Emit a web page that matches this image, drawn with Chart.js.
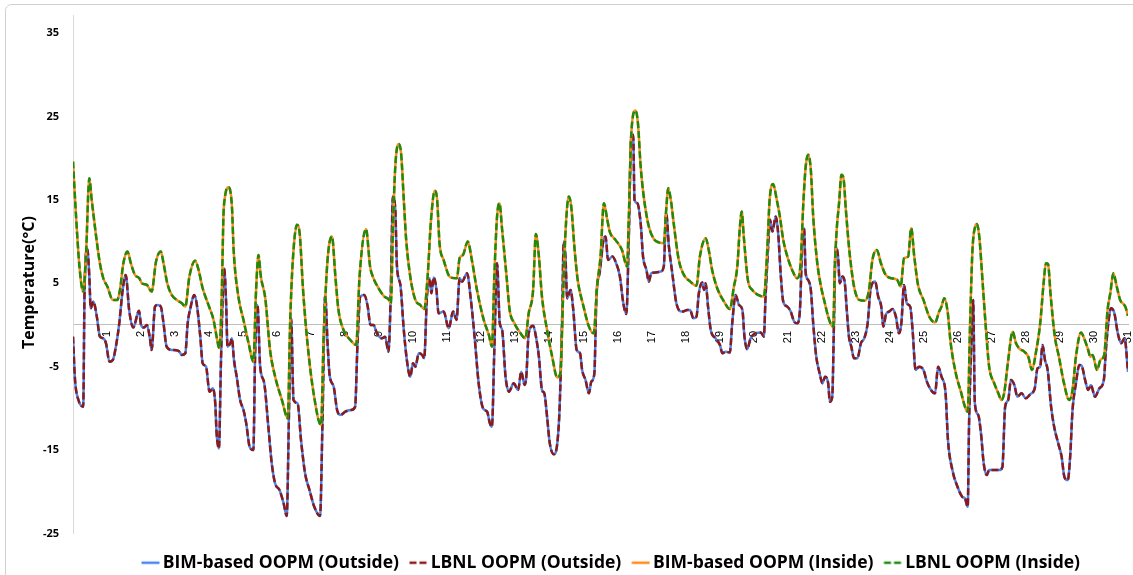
<!DOCTYPE html>
<html><head><meta charset="utf-8">
<script src="https://cdn.jsdelivr.net/npm/chart.js@4.4.1/dist/chart.umd.min.js"></script>
<style>html,body{margin:0;padding:0;background:#fff;}#wrap{width:1133px;height:575px;position:relative;}</style>
</head><body><div id="wrap"><canvas id="c" width="1133" height="575"></canvas></div>
<script>
// Day of month (x) for the outside-temperature readings
const outDay = [
 0,0.06,0.16,0.30,0.34,0.42,0.48,0.52,0.60,0.70,0.79,0.89,0.97,
 1.07,1.17,1.26,1.36,1.46,1.55,1.65,1.77,1.94,
 2.00,2.09,2.17,2.26,2.31,2.41,2.48,2.58,2.66,2.75,2.90,
 3.10,3.20,3.30,3.37,3.46,3.56,3.64,3.74,3.81,3.91,
 4.01,4.11,4.18,4.22,4.29,4.34,4.37,4.44,4.50,4.54,4.62,4.67,4.73,4.81,4.91,
 5.01,5.09,5.19,5.30,5.35,5.42,5.50,5.62,5.74,5.84,5.94,
 6.07,6.19,6.28,6.35,6.41,6.48,6.60,6.70,6.82,6.95,
 7.09,7.26,7.33,7.41,7.48,7.54,7.66,7.76,7.86,
 8.00,8.17,8.29,8.36,8.44,8.56,8.66,8.74,8.83,8.93,
 9.08,9.17,9.27,9.34,9.40,9.47,9.52,9.62,9.72,9.81,9.91,9.99,
 10.06,10.16,10.26,10.32,10.40,10.48,10.53,10.60,10.68,10.74,10.89,
 11.04,11.17,11.27,11.36,11.43,11.58,11.68,11.80,11.92,
 12.05,12.17,12.25,12.31,12.38,12.46,12.54,12.61,12.71,12.81,12.95,
 13.08,13.17,13.27,13.32,13.39,13.52,13.62,13.69,13.78,13.85,13.93,
 14.01,14.13,14.23,14.30,14.37,14.42,14.47,14.52,14.62,14.70,14.80,14.90,14.96,
 15.06,15.16,15.23,15.32,15.38,15.48,15.58,15.65,15.72,15.85,15.94,
 16.07,16.17,16.26,16.33,16.40,16.46,16.50,16.58,16.68,16.75,16.85,16.92,16.99,
 17.12,17.27,17.36,17.43,17.51,17.61,17.73,17.90,
 18.05,18.13,18.23,18.32,18.39,18.49,18.54,18.59,18.66,18.74,18.88,
 19.01,19.08,19.18,19.30,19.37,19.47,19.57,19.67,19.73,19.81,19.91,
 20.06,20.21,20.30,20.35,20.42,20.48,20.55,20.65,20.72,20.80,20.87,20.99,
 21.09,21.19,21.28,21.36,21.43,21.48,21.53,21.60,21.68,21.75,21.84,21.94,
 22.02,22.10,22.19,22.24,22.31,22.36,22.41,22.48,22.53,22.61,22.68,22.73,22.80,22.87,22.95,
 23.05,23.15,23.25,23.35,23.44,23.57,23.66,23.75,23.81,23.89,23.98,
 24.08,24.18,24.27,24.34,24.42,24.50,24.60,24.67,24.76,24.86,24.99,
 25.09,25.21,25.33,25.42,25.52,25.64,25.71,25.84,25.99,
 26.13,26.21,26.29,26.33,26.41,26.45,26.50,26.60,26.68,26.76,26.85,26.92,
 27.07,27.22,27.31,27.39,27.48,27.56,27.66,27.75,27.87,
 28.00,28.13,28.26,28.34,28.42,28.49,28.56,28.64,28.74,28.83,28.95,
 29.05,29.13,29.23,29.30,29.37,29.47,29.57,29.64,29.74,29.83,29.91,
 30.03,30.16,30.29,30.35,30.42,30.50,30.60,30.70,30.80,30.90,31.00
];
// LBNL OOPM outside temperature (°C)
const outTempLBNL = [
 -1.4,-6.6,-9.0,-9.8,4.2,9.1,5.8,2.0,2.8,1.0,-1.4,-1.6,-2.2,
 -4.4,-4.2,-2.6,0.2,4.2,6.0,1.8,-0.3,1.7,
 0.0,-0.3,0.0,-1.6,-3.0,2.2,2.4,2.2,0.2,-2.6,-3.0,
 -3.1,-3.6,-3.4,0.2,2.2,3.6,2.4,-1.4,-4.6,-5.0,
 -8.0,-7.6,-9.4,-13.0,-14.8,-5.8,-0.6,6.8,2.6,-2.6,-2.2,-1.6,-4.2,-6.2,-9.0,
 -10.2,-11.8,-14.6,-15.0,-3.8,2.4,-5.0,-7.0,-12.2,-16.6,-19.0,
 -19.8,-21.4,-22.9,-9.8,0.8,-9.0,-9.4,-13.8,-17.8,-19.8,
 -21.8,-22.9,-11.8,3.6,-2.2,-6.0,-7.4,-10.2,-10.8,
 -10.4,-10.2,-9.8,-2.2,3.4,3.6,2.2,0.0,0.0,-1.0,
 -1.6,-1.4,-3.2,4.2,15.4,13.8,7.0,4.8,-0.6,-4.2,-6.2,-4.6,
 -5.0,-3.4,-3.6,-4.0,3.4,5.6,3.8,5.7,4.2,1.4,1.6,
 -0.4,1.6,0.6,5.6,5.2,6.2,3.4,-1.4,-7.0,
 -10.0,-10.4,-11.8,-12.2,-3.0,7.4,0.2,-0.6,-6.2,-8.0,-7.0,
 -7.8,-5.6,-7.2,-6.2,-1.0,-0.1,-1.8,-3.8,-7.8,-8.2,-11.0,
 -14.2,-15.5,-14.2,-9.8,0.2,10.0,8.2,3.2,4.2,1.8,-3.0,-3.4,-5.4,
 -6.6,-8.2,-6.8,-5.8,3.4,6.4,10.0,10.6,7.8,8.2,7.6,
 5.8,2.6,1.3,10.2,22.2,22.8,15.0,14.6,12.2,8.2,6.6,5.2,6.2,
 6.3,6.4,7.0,13.4,9.4,6.2,2.6,1.6,
 1.8,1.8,0.8,1.0,3.8,5.1,4.2,5.0,2.2,-0.6,-1.6,
 -2.4,-3.4,-3.2,-3.3,0.2,3.6,2.4,1.8,-1.4,-2.9,-1.6,
 -1.0,-0.9,-1.4,3.4,9.0,12.6,11.2,13.0,11.0,5.8,2.8,2.2,
 1.6,0.4,0.2,1.8,10.2,11.6,6.2,5.4,4.2,0.2,-3.8,-5.8,
 -7.0,-6.2,-7.0,-9.2,-8.6,0.2,9.4,8.2,5.0,5.8,5.0,2.2,-1.4,-2.6,-4.0,
 -4.0,-2.2,-1.6,0.2,4.4,5.2,3.4,2.2,-0.2,1.3,1.6,
 1.9,1.0,-1.0,0.2,4.8,2.6,2.2,-0.6,-5.4,-5.0,-5.4,
 -6.8,-7.8,-8.2,-5.0,-6.2,-8.2,-13.8,-17.4,-19.4,
 -20.6,-20.8,-21.8,-11.8,-0.6,3.0,-9.4,-10.8,-13.0,-16.6,-18.0,-17.4,
 -17.4,-17.4,-17.0,-9.8,-9.0,-6.6,-7.2,-8.6,-8.2,
 -8.8,-8.3,-7.6,-5.2,-5.0,-2.4,-4.2,-5.4,-9.8,-12.2,-14.2,
 -15.8,-18.2,-18.6,-15.8,-10.2,-7.0,-4.8,-4.9,-6.6,-7.8,-7.2,
 -8.6,-7.6,-6.6,-3.0,0.2,2.0,1.4,-1.0,-2.2,-1.6,-5.6
];
// BIM-based OOPM outside temperature: indistinguishable from LBNL in the picture
const outTempBIM = outTempLBNL;

// Day of month (x) for the inside-temperature readings
const inDay = [
 0,0.09,0.19,0.30,0.38,0.48,0.55,0.68,0.79,0.89,
 1.01,1.17,1.30,1.38,1.48,1.60,1.70,1.82,1.95,
 2.02,2.17,2.31,2.44,2.58,2.66,2.77,2.90,
 3.05,3.20,3.30,3.42,3.59,3.69,3.81,3.98,
 4.13,4.22,4.30,4.37,4.42,4.46,4.57,4.67,4.72,4.86,
 5.01,5.16,5.30,5.38,5.45,5.52,5.65,5.79,5.94,
 6.14,6.31,6.38,6.46,6.58,6.66,6.76,6.89,
 7.07,7.29,7.36,7.48,7.61,7.71,7.80,7.95,
 8.15,8.32,8.42,8.61,8.73,8.81,8.98,
 9.15,9.27,9.34,9.40,9.47,9.57,9.64,9.72,9.79,9.91,
 10.06,10.20,10.32,10.42,10.52,10.63,10.70,10.77,10.89,
 11.09,11.28,11.36,11.46,11.60,11.72,11.87,
 12.07,12.22,12.31,12.38,12.46,12.53,12.61,12.74,12.83,12.97,
 13.15,13.29,13.39,13.52,13.60,13.69,13.78,13.93,
 14.08,14.23,14.32,14.40,14.47,14.57,14.64,14.74,14.83,14.99,
 15.16,15.30,15.40,15.50,15.60,15.70,15.77,15.94,
 16.13,16.28,16.33,16.40,16.53,16.60,16.68,16.77,16.92,
 17.07,17.21,17.36,17.43,17.49,17.58,17.65,17.80,17.95,
 18.14,18.32,18.42,18.59,18.68,18.78,18.93,
 19.13,19.30,19.42,19.52,19.59,19.65,19.71,19.83,19.96,
 20.13,20.30,20.40,20.47,20.57,20.68,20.77,20.87,20.99,
 21.13,21.28,21.38,21.46,21.53,21.60,21.68,21.75,21.87,21.99,
 22.07,22.19,22.28,22.34,22.38,22.44,22.51,22.58,22.64,22.71,22.81,22.95,
 23.10,23.27,23.39,23.49,23.62,23.74,23.88,
 24.05,24.22,24.32,24.42,24.54,24.63,24.72,24.83,24.99,
 25.16,25.33,25.45,25.52,25.60,25.70,25.79,25.94,
 26.09,26.21,26.29,26.36,26.43,26.51,26.56,26.63,26.73,26.82,26.92,
 27.07,27.19,27.28,27.36,27.48,27.61,27.71,27.80,27.95,
 28.07,28.18,28.29,28.42,28.52,28.59,28.65,28.73,28.85,28.97,
 29.12,29.27,29.37,29.47,29.62,29.71,29.83,29.89,29.96,
 30.09,30.19,30.30,30.40,30.48,30.57,30.67,30.77,30.92,31.00
];
// LBNL OOPM inside temperature (°C)
const inTempLBNL = [
 19.6,13.0,7.0,4.0,8.2,17.6,15.0,10.6,7.4,5.6,
 4.6,3.0,3.0,4.2,7.4,8.8,7.4,6.0,5.6,
 5.0,4.8,4.0,7.6,8.8,7.4,5.0,3.6,
 3.0,2.6,2.2,5.8,7.7,6.6,4.4,2.4,
 0.6,-1.4,-2.8,3.4,13.0,15.2,16.5,14.2,9.0,3.4,
 0.6,-2.2,-4.4,4.2,8.4,5.8,3.2,-3.0,-6.2,
 -9.0,-11.2,0.2,7.8,12.0,11.0,4.2,-2.2,
 -8.2,-12.0,-2.2,7.8,10.6,5.8,1.8,-0.6,
 -1.8,-2.4,5.8,11.5,7.0,5.8,4.4,
 3.4,3.1,2.6,11.4,19.0,21.7,20.6,15.0,10.2,5.8,
 3.0,2.4,1.9,5.8,12.6,16.1,15.0,9.8,7.8,
 5.7,5.6,8.0,8.4,10.0,7.8,4.2,
 0.6,-1.2,-2.6,5.8,13.0,14.6,11.4,5.8,1.8,0.2,
 -1.0,-1.6,1.4,4.2,10.9,8.2,3.4,-0.6,
 -3.8,-6.3,-5.8,3.4,11.0,15.4,14.2,9.0,5.4,2.4,
 -0.2,-1.0,4.6,8.2,14.6,12.6,11.2,10.2,
 9.0,7.0,12.6,22.6,25.7,24.2,19.0,15.4,11.8,
 10.3,9.9,9.8,13.8,16.4,14.6,12.2,7.8,6.0,
 5.2,4.7,8.2,10.4,9.0,6.6,4.4,
 2.8,1.9,4.6,7.0,11.4,13.6,10.6,5.4,4.2,
 3.6,3.4,9.0,15.0,16.9,15.0,13.0,10.2,8.2,
 6.6,5.6,7.4,14.6,19.0,20.4,18.6,13.0,7.4,4.4,
 3.0,1.0,0.0,-0.2,6.2,11.4,14.6,18.0,17.6,13.8,9.0,4.6,
 3.0,2.9,4.2,7.8,9.0,7.4,6.0,
 5.6,5.4,4.6,8.0,8.2,11.6,8.2,4.8,3.0,
 1.0,0.3,1.6,2.2,3.2,1.6,-2.2,-5.8,
 -8.0,-9.8,-10.4,0.2,9.0,11.8,12.1,10.6,5.0,-0.2,-5.0,
 -7.0,-8.2,-9.0,-8.2,-4.2,-0.8,-2.2,-2.8,-3.2,
 -3.8,-5.4,-3.4,0.2,5.0,7.4,7.3,3.4,-1.4,-3.8,
 -7.0,-9.0,-7.8,-3.8,-0.9,-1.6,-3.0,-3.8,-3.6,
 -5.4,-4.2,-3.6,1.8,3.8,6.2,4.6,3.0,2.2,1.1
];
// BIM-based OOPM inside temperature: indistinguishable from LBNL in the picture
const inTempBIM = inTempLBNL;

const seriesNames = ['BIM-based OOPM (Outside)','LBNL OOPM (Outside)','BIM-based OOPM (Inside)','LBNL OOPM (Inside)'];
const seriesColors = ['#4a86f0','#8b1a1a','#ff8c1a','#1f8a0f'];
const seriesDashes = [[], [7, 3], [], [7, 3]];
const xTickValues = [1,2,3,4,5,6,7,8,9,10,11,12,13,14,15,16,17,18,19,20,21,22,23,24,25,26,27,28,29,30,31];
const xTickLabels = ['1','2','3','4','5','6','7','8','9','10','11','12','13','14','15','16','17','18','19','20','21','22','23','24','25','26','27','28','29','30','31'];
const yTickValues = [-25,-15,-5,5,15,25,35];
const yTickLabels = ['-25','-15','-5','5','15','25','35'];
const yTitle = 'Temperature(°C)';

const pts = (xs, ys) => xs.map((x, i) => ({x: x, y: ys[i]}));

// legend line sample drawn as a small canvas used as the legend point style
function legendSample(color, dash) {
  const c = document.createElement('canvas');
  c.width = 24; c.height = 6;
  const g = c.getContext('2d');
  g.strokeStyle = color; g.lineWidth = 2.5; g.setLineDash(dash);
  g.beginPath(); g.moveTo(5.5, 3); g.lineTo(23.5, 3); g.stroke();
  return c;
}
const legendSamples = seriesColors.map((c, i) => legendSample(c, seriesDashes[i]));

const framePlugin = {
  id: 'frame',
  beforeDraw(chart) {
    const ctx = chart.ctx;
    ctx.save();
    ctx.strokeStyle = '#d0d0d0';
    ctx.lineWidth = 1;
    ctx.beginPath();
    if (ctx.roundRect) ctx.roundRect(5.5, 4.5, 1200, 700, 6); else ctx.rect(5.5, 4.5, 1200, 700);
    ctx.stroke();
    ctx.restore();
  }
};
const LDX = 47, LDY = 9.5;
const legendShift = {
  id: 'legendShift',
  afterLayout(chart) {
    const lg = chart.legend;
    if (!lg) return;
    lg.left += LDX; lg.right += LDX; lg.top += LDY; lg.bottom += LDY;
  }
};

const common = {pointRadius: 0, pointHoverRadius: 0, fill: false, cubicInterpolationMode: 'monotone', tension: 0.4, borderWidth: 2.5};
const dsets = [
  {data: pts(outDay, outTempBIM), order: 4},
  {data: pts(outDay, outTempLBNL), order: 3},
  {data: pts(inDay, inTempBIM), order: 2},
  {data: pts(inDay, inTempLBNL), order: 1}
].map((d, i) => Object.assign({label: seriesNames[i], borderColor: seriesColors[i], backgroundColor: seriesColors[i], borderDash: seriesDashes[i]}, common, d));

new Chart(document.getElementById('c'), {
  type: 'line',
  data: {datasets: dsets},
  plugins: [framePlugin, legendShift],
  options: {
    responsive: false,
    animation: false,
    devicePixelRatio: 1,
    layout: {padding: {top: 15, left: 0, right: 5, bottom: 3}},
    plugins: {
      tooltip: {enabled: false},
      legend: {
        position: 'bottom',
        labels: {
          usePointStyle: true, pointStyleWidth: 12, padding: 11,
          color: '#000', font: {family: 'Open Sans', size: 17.5, weight: 'bold'},
          sort: (a, b) => a.datasetIndex - b.datasetIndex,
          generateLabels(chart) {
            const items = Chart.defaults.plugins.legend.labels.generateLabels(chart);
            items.forEach(it => { it.pointStyle = legendSamples[it.datasetIndex]; });
            return items;
          }
        }
      }
    },
    scales: {
      x: {
        type: 'linear', min: 0, max: 31, position: {y: 0},
        grid: {display: false, drawTicks: false},
        border: {display: true, color: '#bfbfbf', width: 1},
        afterBuildTicks: (s) => { s.ticks = xTickValues.map(v => ({value: v})); },
        afterFit: (s) => { s.paddingLeft = 0; s.paddingRight = 0; },
        ticks: {
          autoSkip: false, minRotation: 90, maxRotation: 90, padding: 6, color: '#000',
          font: {family: 'Liberation Sans', size: 11},
          callback: (v) => xTickLabels[xTickValues.indexOf(v)]
        }
      },
      y: {
        type: 'linear', min: -25, max: 37.16,
        afterBuildTicks: (s) => { s.ticks = yTickValues.map(v => ({value: v})); },
        afterFit: (s) => { s.width = 73; s.paddingTop = 0; s.paddingBottom = 0; },
        grid: {display: false, drawTicks: false},
        border: {display: true, color: '#d9d9d9', width: 1},
        ticks: {
          padding: 14, color: '#000', font: {family: 'Open Sans', size: 11, weight: 'bold'},
          callback: (v) => yTickLabels[yTickValues.indexOf(v)]
        },
        title: {display: true, text: yTitle + '\u00a0\u00a0\u00a0\u00a0', color: '#000', font: {family: 'Open Sans', size: 16, weight: 'bold'}, padding: {top: 20, bottom: 0}}
      }
    }
  }
});
</script></body></html>
